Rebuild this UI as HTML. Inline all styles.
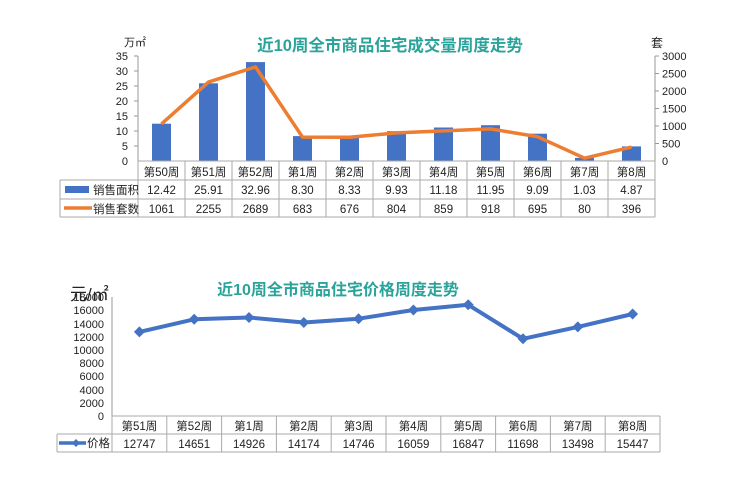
<!DOCTYPE html>
<html><head><meta charset="utf-8"><style>
body{margin:0;background:#fff;width:740px;height:482px;overflow:hidden}
text{font-family:"Liberation Sans","Noto Sans CJK SC",sans-serif;fill:#222}
</style></head><body>
<svg width="740" height="482" viewBox="0 0 740 482" xmlns="http://www.w3.org/2000/svg">
<!-- Chart 1 -->
<text x="390" y="51" text-anchor="middle" font-size="16.5" font-weight="bold" style="fill:#2aa39a">近10周全市商品住宅成交量周度走势</text>
<text x="124" y="46" font-size="11">万㎡</text>
<text x="651" y="47" font-size="12">套</text>
<g font-size="11" text-anchor="end">
<text x="128" y="165">0</text><text x="128" y="150">5</text><text x="128" y="135">10</text><text x="128" y="120">15</text><text x="128" y="105">20</text><text x="128" y="90">25</text><text x="128" y="75">30</text><text x="128" y="60">35</text>
</g>
<g font-size="11">
<text x="662" y="165">0</text><text x="662" y="147.5">500</text><text x="662" y="130">1000</text><text x="662" y="112.5">1500</text><text x="662" y="95">2000</text><text x="662" y="77.5">2500</text><text x="662" y="60">3000</text>
</g>
<line x1="138" y1="56" x2="138" y2="161" stroke="#999"/>
<line x1="655" y1="56" x2="655" y2="161" stroke="#999"/>
<g stroke="#999"><line x1="134" y1="56" x2="138" y2="56"/><line x1="134" y1="71" x2="138" y2="71"/><line x1="134" y1="86" x2="138" y2="86"/><line x1="134" y1="101" x2="138" y2="101"/><line x1="134" y1="116" x2="138" y2="116"/><line x1="134" y1="131" x2="138" y2="131"/><line x1="134" y1="146" x2="138" y2="146"/>
<line x1="655" y1="56" x2="659" y2="56"/><line x1="655" y1="73.5" x2="659" y2="73.5"/><line x1="655" y1="91" x2="659" y2="91"/><line x1="655" y1="108.5" x2="659" y2="108.5"/><line x1="655" y1="126" x2="659" y2="126"/><line x1="655" y1="143.5" x2="659" y2="143.5"/></g>
<g fill="#4472c4">
<rect x="152" y="123.7" width="19" height="37.3"/><rect x="199" y="83.3" width="19" height="77.7"/><rect x="246" y="62.1" width="19" height="98.9"/><rect x="293" y="136.1" width="19" height="24.9"/><rect x="340" y="136" width="19" height="25"/><rect x="387" y="131.2" width="19" height="29.8"/><rect x="434" y="127.5" width="19" height="33.5"/><rect x="481" y="125.2" width="19" height="35.8"/><rect x="528" y="133.7" width="19" height="27.3"/><rect x="575" y="157.9" width="19" height="3.1"/><rect x="622" y="146.4" width="19" height="14.6"/>
</g>
<polyline fill="none" stroke="#ed7d31" stroke-width="3.5" stroke-linejoin="round" points="161.5,123.9 208.5,82.1 255.5,66.9 302.5,137.1 349.5,137.3 396.5,132.9 443.5,130.9 490.5,128.9 537.5,136.7 584.5,158.2 631.5,147.1"/>
<!-- table 1 -->
<g stroke="#aaa" fill="none">
<line x1="138" y1="161" x2="655" y2="161"/>
<line x1="60" y1="180" x2="655" y2="180"/><line x1="60" y1="199" x2="655" y2="199"/><line x1="60" y1="217" x2="655" y2="217"/>
<line x1="60" y1="180" x2="60" y2="217"/>
<line x1="138" y1="161" x2="138" y2="217"/><line x1="185" y1="161" x2="185" y2="217"/><line x1="232" y1="161" x2="232" y2="217"/><line x1="279" y1="161" x2="279" y2="217"/><line x1="326" y1="161" x2="326" y2="217"/><line x1="373" y1="161" x2="373" y2="217"/><line x1="420" y1="161" x2="420" y2="217"/><line x1="467" y1="161" x2="467" y2="217"/><line x1="514" y1="161" x2="514" y2="217"/><line x1="561" y1="161" x2="561" y2="217"/><line x1="608" y1="161" x2="608" y2="217"/><line x1="655" y1="161" x2="655" y2="217"/>
</g>
<rect x="65" y="186" width="24" height="7" fill="#4472c4"/>
<line x1="64" y1="208" x2="92" y2="208" stroke="#ed7d31" stroke-width="3.5"/>
<text x="93" y="194" font-size="11.5">销售面积</text>
<text x="93" y="213" font-size="11.5">销售套数</text>
<g font-size="11.5" text-anchor="middle">
<text x="161.5" y="176">第50周</text><text x="208.5" y="176">第51周</text><text x="255.5" y="176">第52周</text><text x="302.5" y="176">第1周</text><text x="349.5" y="176">第2周</text><text x="396.5" y="176">第3周</text><text x="443.5" y="176">第4周</text><text x="490.5" y="176">第5周</text><text x="537.5" y="176">第6周</text><text x="584.5" y="176">第7周</text><text x="631.5" y="176">第8周</text>
<text x="161.5" y="194">12.42</text><text x="208.5" y="194">25.91</text><text x="255.5" y="194">32.96</text><text x="302.5" y="194">8.30</text><text x="349.5" y="194">8.33</text><text x="396.5" y="194">9.93</text><text x="443.5" y="194">11.18</text><text x="490.5" y="194">11.95</text><text x="537.5" y="194">9.09</text><text x="584.5" y="194">1.03</text><text x="631.5" y="194">4.87</text>
<text x="161.5" y="213">1061</text><text x="208.5" y="213">2255</text><text x="255.5" y="213">2689</text><text x="302.5" y="213">683</text><text x="349.5" y="213">676</text><text x="396.5" y="213">804</text><text x="443.5" y="213">859</text><text x="490.5" y="213">918</text><text x="537.5" y="213">695</text><text x="584.5" y="213">80</text><text x="631.5" y="213">396</text>
</g>

<!-- Chart 2 -->
<text x="338" y="295" text-anchor="middle" font-size="16" font-weight="bold" style="fill:#2aa39a">近10周全市商品住宅价格周度走势</text>
<text x="70" y="300" font-size="17">元/㎡</text>
<g font-size="11" text-anchor="end">
<text x="104" y="420">0</text><text x="104" y="407">2000</text><text x="104" y="394">4000</text><text x="104" y="380">6000</text><text x="104" y="367">8000</text><text x="104" y="354">10000</text><text x="104" y="341">12000</text><text x="104" y="328">14000</text><text x="104" y="314">16000</text><text x="104" y="301">18000</text>
</g>
<line x1="112" y1="297" x2="112" y2="416" stroke="#999"/>
<polyline fill="none" stroke="#4472c4" stroke-width="4" stroke-linejoin="round" points="139.4,331.9 194.2,319.3 249,317.5 303.8,322.5 358.6,318.7 413.4,310 468.2,304.8 523,338.8 577.8,326.9 632.6,314"/>
<g fill="#4472c4">
<path d="M139.4 326.4l5.5 5.5-5.5 5.5-5.5-5.5z"/><path d="M194.2 313.8l5.5 5.5-5.5 5.5-5.5-5.5z"/><path d="M249 312l5.5 5.5-5.5 5.5-5.5-5.5z"/><path d="M303.8 317l5.5 5.5-5.5 5.5-5.5-5.5z"/><path d="M358.6 313.2l5.5 5.5-5.5 5.5-5.5-5.5z"/><path d="M413.4 304.5l5.5 5.5-5.5 5.5-5.5-5.5z"/><path d="M468.2 299.3l5.5 5.5-5.5 5.5-5.5-5.5z"/><path d="M523 333.3l5.5 5.5-5.5 5.5-5.5-5.5z"/><path d="M577.8 321.4l5.5 5.5-5.5 5.5-5.5-5.5z"/><path d="M632.6 308.5l5.5 5.5-5.5 5.5-5.5-5.5z"/>
</g>
<g stroke="#aaa" fill="none">
<line x1="112" y1="416" x2="660" y2="416"/>
<line x1="57" y1="434" x2="660" y2="434"/><line x1="57" y1="452" x2="660" y2="452"/>
<line x1="57" y1="434" x2="57" y2="452"/>
<line x1="112" y1="416" x2="112" y2="452"/><line x1="166.8" y1="416" x2="166.8" y2="452"/><line x1="221.6" y1="416" x2="221.6" y2="452"/><line x1="276.4" y1="416" x2="276.4" y2="452"/><line x1="331.2" y1="416" x2="331.2" y2="452"/><line x1="386" y1="416" x2="386" y2="452"/><line x1="440.8" y1="416" x2="440.8" y2="452"/><line x1="495.6" y1="416" x2="495.6" y2="452"/><line x1="550.4" y1="416" x2="550.4" y2="452"/><line x1="605.2" y1="416" x2="605.2" y2="452"/><line x1="660" y1="416" x2="660" y2="452"/>
</g>
<line x1="59" y1="443" x2="86" y2="443" stroke="#4472c4" stroke-width="3.5"/>
<path d="M76 439l4 4-4 4-4-4z" fill="#4472c4"/>
<text x="87" y="447" font-size="11.5">价格</text>
<g font-size="11.5" text-anchor="middle">
<text x="139.4" y="430">第51周</text><text x="194.2" y="430">第52周</text><text x="249" y="430">第1周</text><text x="303.8" y="430">第2周</text><text x="358.6" y="430">第3周</text><text x="413.4" y="430">第4周</text><text x="468.2" y="430">第5周</text><text x="523" y="430">第6周</text><text x="577.8" y="430">第7周</text><text x="632.6" y="430">第8周</text>
<text x="139.4" y="448">12747</text><text x="194.2" y="448">14651</text><text x="249" y="448">14926</text><text x="303.8" y="448">14174</text><text x="358.6" y="448">14746</text><text x="413.4" y="448">16059</text><text x="468.2" y="448">16847</text><text x="523" y="448">11698</text><text x="577.8" y="448">13498</text><text x="632.6" y="448">15447</text>
</g>
</svg>
</body></html>
